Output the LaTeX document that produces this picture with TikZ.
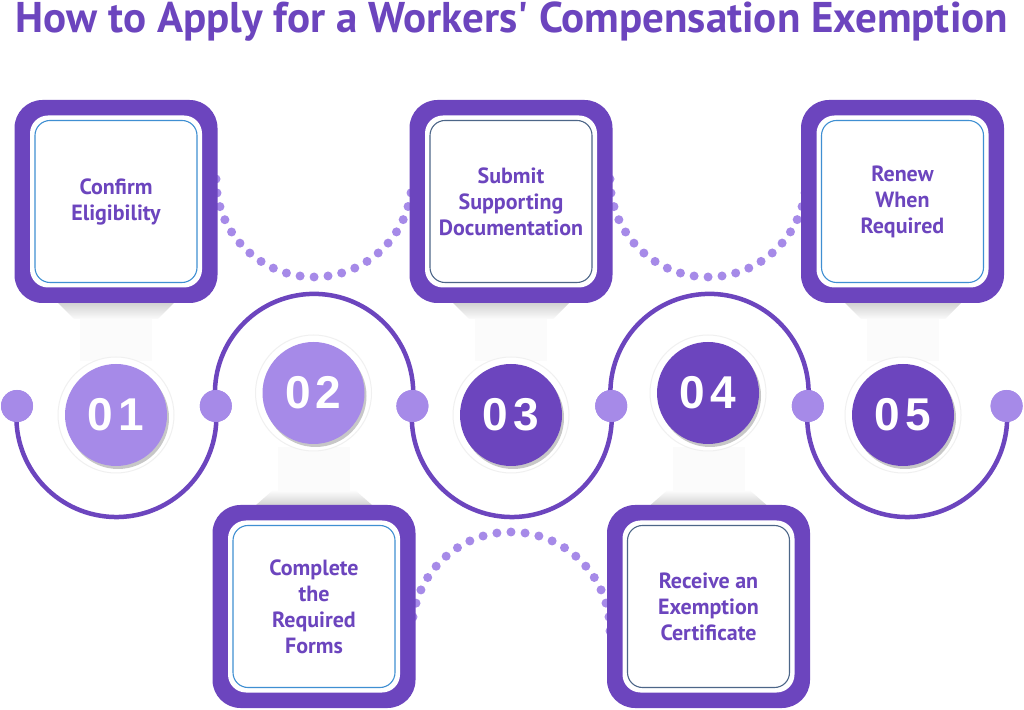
\documentclass[tikz,border=0pt]{standalone}
\usepackage{fontspec}
\newfontfamily\ptsans{PT Sans}
\newfontfamily\libsans{Liberation Sans}
\usetikzlibrary{shadows}
\definecolor{pD}{HTML}{6C45BE}
\definecolor{pL}{HTML}{A68AE8}
\definecolor{lineblue}{HTML}{3F8FD2}
\definecolor{lineslate}{HTML}{4D6688}
\begin{document}
\begin{tikzpicture}[x=1pt,y=1pt,
 outerbox/.style={fill=pD, rounded corners=28pt, minimum width=203pt, minimum height=203pt, inner sep=0pt},
 whitebox/.style={fill=white, rounded corners=18pt, minimum width=172pt, minimum height=172pt, inner sep=0pt},
 textbox/.style={draw=#1, line width=1.1pt, rounded corners=15pt, minimum width=162pt, minimum height=162pt, inner sep=0pt, align=center, text=pD, font=\ptsans\bfseries\fontsize{22}{26}\selectfont},
 halo/.style={circle, fill=white, draw=gray!12, line width=1pt, minimum size=116pt, inner sep=0pt},
 numcirc/.style={circle, fill=#1, minimum size=102pt, inner sep=0pt, text=white, font=\libsans\bfseries\fontsize{46}{46}\selectfont, drop shadow={shadow xshift=2pt, shadow yshift=-3pt, opacity=0.22, fill=black}},
 pdot/.style={circle, fill=pL, minimum size=32pt, inner sep=0pt},
 arcline/.style={draw=pD, line width=4.5pt},
 dotline/.style={draw=pL, line width=9pt, line cap=round, dash pattern=on 0pt off #1},
 necktop/.style={top color=gray!35, bottom color=gray!3, draw=none},
 neckbot/.style={top color=gray!3, bottom color=gray!35, draw=none},
]
\useasboundingbox (0,0) rectangle (1024,709);
\fill[white] (0,0) rectangle (1024,709);

% necks (top boxes)
\foreach \c in {116,511,903}{
  \fill[gray!3] (\c-36,406) rectangle (\c+36,348);
  \shade[necktop] (\c-58,406) -- (\c+58,406) -- (\c+42,390) -- (\c-42,390) -- cycle;
}
% necks (bottom boxes)
\foreach \c in {314,708.5}{
  \fill[gray!3] (\c-36,204) rectangle (\c+36,262);
  \shade[neckbot] (\c-58,204) -- (\c+58,204) -- (\c+42,218) -- (\c-42,218) -- cycle;
}

% dotted arcs
\coordinate (t1) at (216,530);
\coordinate (t2) at (610,530);
\coordinate (u1) at (610,78);
\draw[dotline=14pt] (t1) arc[start angle=180, end angle=360, radius=98];
\draw[dotline=14pt] (t2) arc[start angle=180, end angle=360, radius=98];
\draw[dotline=14.14pt] (u1) arc[start angle=0, end angle=180, radius=99];

% small dots on the line
\node[pdot] (d1) at (17,303) {};
\node[pdot] (d2) at (215.8,303) {};
\node[pdot] (d3) at (412.4,303) {};
\node[pdot] (d4) at (611.2,303) {};
\node[pdot] (d5) at (807.8,303) {};
\node[pdot] (d6) at (1006.6,303) {};

% solid arcs
\draw[arcline] (d1.center) arc[start angle=173.66, end angle=366.34, radius=100];
\draw[arcline] (d2.center) arc[start angle=187.52, end angle=-7.52, radius=99.15];
\draw[arcline] (d3.center) arc[start angle=173.66, end angle=366.34, radius=100];
\draw[arcline] (d4.center) arc[start angle=187.52, end angle=-7.52, radius=99.15];
\draw[arcline] (d5.center) arc[start angle=173.66, end angle=366.34, radius=100];
\foreach \d in {d1,d2,d3,d4,d5,d6}{\fill[pL] (\d) circle[radius=16];}

% numbered circles
\node[halo] (h1) at (116,294) {};
\node[numcirc=pL] (n1) at (h1) {0\kern5pt1};
\node[halo] (h2) at (313.5,316) {};
\node[numcirc=pL] (n2) at (h2) {0\kern5pt2};
\node[halo] (h3) at (511,294) {};
\node[numcirc=pD] (n3) at (h3) {0\kern5pt3};
\node[halo] (h4) at (708,316) {};
\node[numcirc=pD] (n4) at (h4) {0\kern5pt4};
\node[halo] (h5) at (903,294) {};
\node[numcirc=pD] (n5) at (h5) {0\kern5pt5};

% boxes
\node[outerbox] (b1o) at (116,507.5) {};
\node[whitebox] (b1w) at (b1o) {};
\node[textbox=lineblue] (b1) at (b1o) {Confirm\\Eligibility};

\node[outerbox] (b2o) at (314,102.5) {};
\node[whitebox] (b2w) at (b2o) {};
\node[textbox=lineblue] (b2) at (b2o) {Complete\\the\\Required\\Forms};

\node[outerbox] (b3o) at (511,507.5) {};
\node[whitebox] (b3w) at (b3o) {};
\node[textbox=lineslate] (b3) at (b3o) {Submit\\Supporting\\Documentation};

\node[outerbox] (b4o) at (708.5,102.5) {};
\node[whitebox] (b4w) at (b4o) {};
\node[textbox=lineslate] (b4) at (b4o) {Receive an\\Exemption\\Certificate};

\node[outerbox] (b5o) at (902.5,507.5) {};
\node[whitebox] (b5w) at (b5o) {};
\node[textbox=lineblue] (b5) at (b5o) {Renew\\When\\Required};

% title
\node[anchor=base, text=pD, inner sep=0pt, font=\ptsans\bfseries\fontsize{43}{43}\selectfont] (title) at (512,676) {How to Apply for a Workers\char39\ Compensation Exemption};
\end{tikzpicture}
\end{document}
